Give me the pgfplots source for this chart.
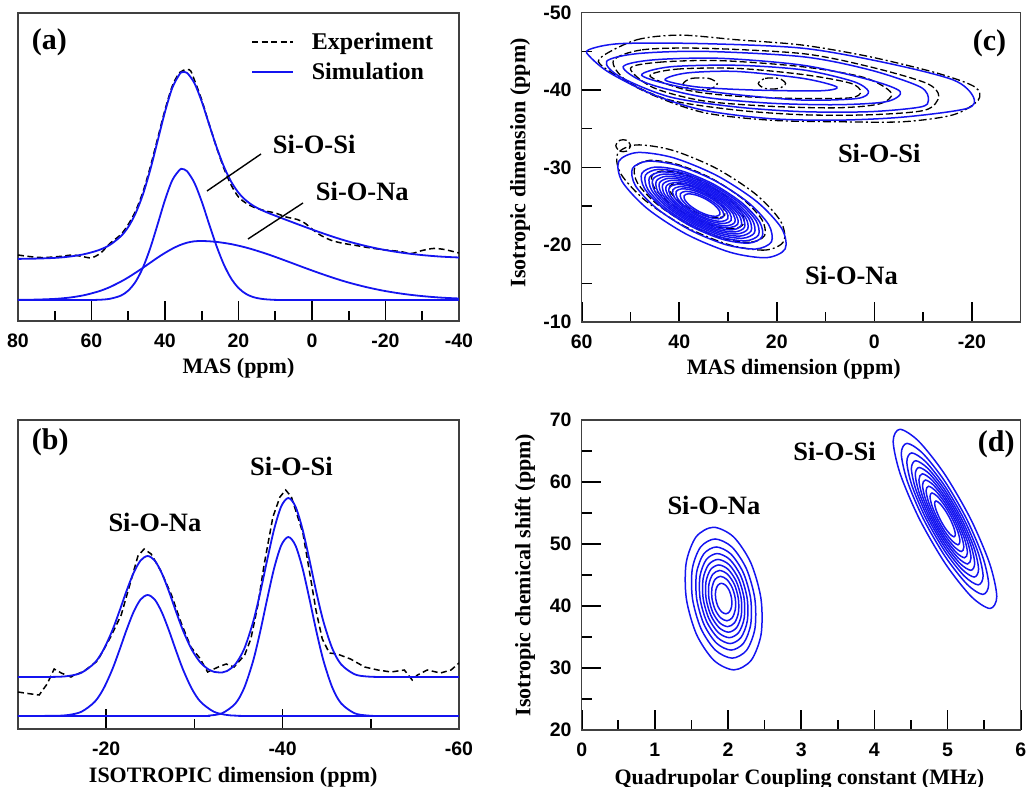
\documentclass[border=0pt]{standalone}
\usepackage{pgfplots}
\pgfplotsset{compat=1.18}
\usepackage{fontspec}
\setmainfont{Liberation Serif}
\newfontfamily\ticksf{Liberation Sans}
\definecolor{simblue}{RGB}{20,20,240}
\newcommand\tickfont{\ticksf\bfseries\fontsize{19.5}{20}\selectfont}
\newcommand\labfont{\bfseries\fontsize{22}{24}\selectfont}
\newcommand\annfont{\bfseries\fontsize{26.5}{28}\selectfont}
\newcommand\legfont{\bfseries\fontsize{24}{26}\selectfont}
\newcommand\panfont{\bfseries\fontsize{30}{32}\selectfont}
\tikzset{exptline/.style={black, line width=1.5pt, dash pattern=on 6pt off 3.5pt}}
\pgfplotsset{
  nmr/.style={
    scale only axis, anchor=south west, clip=true,
    axis line style={line width=1.5pt, black!75},
    tick style={line width=1.6pt, black},
    major tick length=19.5pt, minor tick length=10pt,
    tick align=inside, xtick pos=left, ytick pos=left,
    /pgf/number format/assume math mode=true,
    ticklabel style={font=\tickfont},
    xticklabel style={anchor=center, yshift=-19.5pt},
    yticklabel style={anchor=east, inner sep=0pt, xshift=-10pt},
    label style={font=\labfont},
    xlabel style={at={(axis description cs:0.5,-0.152)}, anchor=center},
  },
  sim/.style={color=simblue, line width=1.8pt, smooth},
  expt/.style={exptline},
  cblue/.style={color=simblue, line width=1.5pt, smooth cycle},
  cdash/.style={black, line width=1.3pt, dash pattern=on 7pt off 3pt, smooth cycle},
  cdot/.style={black, line width=1.3pt, dash pattern=on 8pt off 3pt on 2pt off 3pt, smooth cycle},
}
\begin{document}
\begin{tikzpicture}[x=1pt,y=1pt]
\path[use as bounding box] (0,0) rectangle (1028,787);

% ---------------- (a) 1D MAS spectrum ----------------
\begin{axis}[nmr, at={(18pt,466pt)}, width=441pt, height=308pt,
  x dir=reverse, xmin=-40, xmax=80, ymin=0, ymax=308,
  xtick={-40,-20,0,20,40,60,80}, minor xtick={-30,-10,10,30,50,70}, ytick=\empty,
  xlabel={MAS (ppm)}]
\addplot[expt, smooth] coordinates {(80,66) (77,64.5) (74,63.5) (71,63.8) (68,64.8) (65,66) (62.5,64.5) (60,63.2) (57.5,68) (55,77.5) (52,86.5) (50,96.5) (48,110) (46,129) (44,154) (42,182.5) (40,211) (38,235) (36,248.5) (34,251.5) (33,250) (32,241) (30,221) (28,197) (26,174) (24,153) (22,136) (20,124) (18,118) (16,114) (14,111.5) (12,109.5) (10,108) (7,104) (4,101.5) (2,98) (0,92) (-2,86.5) (-5,81) (-8,78) (-12,75.5) (-16,73) (-20,71) (-24,69.5) (-27,67.5) (-30,70.5) (-33,72.5) (-36,71.5) (-40,68)};
\addplot[sim] coordinates {(80,62.1) (75,62.4) (70,63.1) (66,64.4) (62,66.8) (58,70.9) (55,76.1) (52,84.8) (50,94.0) (48,107.6) (46,126.6) (44,151.3) (42,180.1) (40,209.1) (38,233.2) (36,247.0) (35.3,248.8) (34,248.1) (32,237.9) (30,219.4) (28,196.7) (26,174.3) (24,154.7) (22,139.4) (20,128.3) (18,120.7) (16,115.3) (14,111.4) (12,108.2) (10,105.3) (6,99.7) (2,94.2) (-2,88.9) (-6,83.9) (-10,79.4) (-15,74.7) (-20,70.9) (-25,68.0) (-30,65.9) (-35,64.4) (-40,63.5)};
% Si-O-Si component
\addplot[sim] coordinates {(80,21) (62,21) (58,21.2) (55,22.2) (52,25.4) (50,30.4) (48,39.3) (46,53.4) (44,73.0) (42,96.7) (40,121.0) (38,140.9) (36,151.2) (35.3,152) (34,149.8) (32,138.2) (30,119.4) (28,97.0) (26,75.2) (24,56.6) (22,42.5) (20,33.0) (18,27.2) (16,23.9) (14,22.3) (12,21.5) (10,21.2) (6,21) (-40,21)};
% Si-O-Na component
\addplot[sim] coordinates {(80,21.1) (75,21.4) (70,22.1) (66,23.4) (62,25.8) (58,29.7) (55,33.9) (52,39.4) (50,43.6) (48,48.3) (46,53.2) (44,58.3) (42,63.4) (40,68.1) (38,72.3) (36,75.8) (34,78.3) (32,79.7) (30,80.0) (28,79.7) (26,79.1) (24,78.1) (22,76.9) (20,75.3) (18,73.5) (16,71.4) (14,69.1) (12,66.7) (10,64.1) (6,58.7) (2,53.2) (-2,47.9) (-6,42.9) (-10,38.4) (-15,33.7) (-20,29.9) (-25,27.0) (-30,24.9) (-35,23.4) (-40,22.5)};
\end{axis}

% ---------------- (b) isotropic projection ----------------
\begin{axis}[nmr, at={(18pt,58pt)}, width=441pt, height=309pt,
  x dir=reverse, xmin=-60, xmax=-10, ymin=0, ymax=309,
  xtick={-60,-40,-20}, minor xtick={-50,-30}, ytick=\empty,
  xlabel={ISOTROPIC dimension (ppm)},
  xlabel style={at={(axis description cs:0.488,-0.155)}}]
\addplot[expt] coordinates {(-10,37) (-11.1,35.5) (-12.4,34) (-13.3,45) (-14.1,60) (-14.9,56) (-16,52) (-17.5,58) (-19,68) (-20.5,92) (-21.7,114) (-22.8,148) (-23.6,173) (-24.3,180) (-25.1,175) (-26.2,158) (-27.4,134) (-28.5,106) (-29.6,82) (-30.6,71) (-31.5,57) (-32.7,62) (-33.6,65) (-34.5,62) (-35.7,74) (-36.4,90) (-37.2,124) (-37.9,164) (-38.9,212) (-39.7,232) (-40.35,239) (-41,232) (-42.3,196) (-43,160) (-43.8,118) (-44.5,90) (-45.3,76) (-46.2,75) (-47.7,70) (-49.3,62) (-50.8,59) (-52.3,57) (-53.8,59) (-54.7,49) (-55.3,54) (-56.4,59) (-57.9,56) (-59.1,59) (-60,66)};
\addplot[sim] coordinates {(-10,52) (-14,52.1) (-15.7,53.0) (-17.2,56.3) (-18.7,66.2) (-19.7,79.4) (-20.7,98.7) (-21.5,117.8) (-22.3,137.9) (-23.1,155.9) (-23.9,168.5) (-24.7,173) (-25.5,168.5) (-26.3,155.9) (-27.1,137.9) (-27.9,117.8) (-28.7,98.7) (-29.7,79.4) (-30.7,66.3) (-31.65,59.3) (-32.2,57.2) (-33.15,56.5) (-33.7,58.0) (-34.65,64.8) (-35.65,80.2) (-36.65,106.8) (-37.45,135.9) (-38.25,168.9) (-39.05,200.1) (-39.85,222.7) (-40.65,231) (-41.45,222.7) (-42.25,200.1) (-43.05,168.9) (-43.85,135.9) (-44.65,106.8) (-45.65,80.2) (-46.65,64.5) (-48.15,54.8) (-49.65,52.45) (-52,52) (-60,52)};
% Si-O-Na component
\addplot[sim] coordinates {(-10,13) (-14.2,13.2) (-15.7,14.0) (-17.2,17.3) (-18.7,27.2) (-19.7,40.4) (-20.7,59.7) (-21.5,78.8) (-22.3,98.9) (-23.1,116.9) (-23.9,129.5) (-24.7,134) (-25.5,129.5) (-26.3,116.9) (-27.1,98.9) (-27.9,78.8) (-28.7,59.7) (-29.7,40.4) (-30.7,27.2) (-32.2,17.3) (-33.7,14.0) (-35.2,13.2) (-37,13) (-60,13)};
% Si-O-Si component
\addplot[sim] coordinates {(-10,13) (-30,13) (-31.65,13.45) (-33.15,15.8) (-34.65,25.5) (-35.65,41.2) (-36.65,67.8) (-37.45,96.9) (-38.25,129.9) (-39.05,161.1) (-39.85,183.7) (-40.65,192) (-41.45,183.7) (-42.25,161.1) (-43.05,129.9) (-43.85,96.9) (-44.65,67.8) (-45.65,41.2) (-46.65,25.5) (-48.15,15.8) (-49.65,13.45) (-51.5,13) (-60,13)};
\end{axis}

% ---------------- (c) 2D MQMAS contours ----------------
\begin{axis}[nmr, at={(581.7pt,465pt)}, width=439pt, height=309.3pt,
  x dir=reverse, y dir=reverse, xmin=-30, xmax=60, ymin=-50, ymax=-10,
  xtick={-20,0,20,40,60}, minor xtick={-10,10,30,50},
  ytick={-50,-40,-30,-20,-10}, minor ytick={-45,-35,-25,-15},
  xlabel={MAS dimension (ppm)}, ylabel={Isotropic dimension (ppm)},
  xlabel style={at={(axis description cs:0.483,-0.152)}},
  ylabel style={at={(axis description cs:-0.1405,0.515)}, anchor=center}]
% experimental contours, Si-O-Si
\addplot[cdot] coordinates {(55.9,-44.3) (48.7,-46.5) (39.8,-47.1) (28.2,-46.5) (14.6,-45.8) (0.9,-44.3) (-12.8,-42.2) (-20.6,-40.4) (-21.3,-38.7) (-16.2,-36.8) (-5.9,-35.9) (7.7,-35.9) (21.4,-36.1) (35.1,-37.1) (46.7,-39.7) (55.6,-43.0)};
\addplot[cdash] coordinates {(53.5,-43.8) (47.6,-45.2) (35.1,-45.4) (14.6,-44.7) (0.9,-43.0) (-10.6,-40.9) (-13.2,-39.2) (-10.4,-37.4) (0.9,-36.8) (14.6,-36.8) (28.2,-37.4) (41.9,-38.7) (50.8,-41.2)};
\addplot[cdash] coordinates {(50.0,-42.8) (44.0,-43.6) (31.6,-43.8) (14.6,-43.0) (2.0,-41.6) (-3.5,-39.6) (-1.0,-38.2) (7.7,-37.7) (21.4,-37.9) (35.1,-38.6) (45.3,-40.3)};
\addplot[cdash] coordinates {(46.0,-41.8) (40.5,-42.7) (28.2,-42.8) (14.6,-42.0) (5.0,-40.9) (2.8,-39.8) (4.8,-39.0) (14.6,-38.9) (28.2,-39.2) (38.5,-40.0)};
\addplot[cdot] coordinates {(39.2,-40.8) (37.5,-41.5) (33.9,-41.5) (32.2,-40.8) (33.9,-40.1) (37.5,-40.1)};
\addplot[cdot] coordinates {(23.8,-40.85) (22.4,-41.5) (19.6,-41.5) (18.2,-40.85) (19.6,-40.2) (22.4,-40.2)};
% simulated contours, Si-O-Si
\addplot[cblue] coordinates {(58.6,-45.2) (52.1,-46.0) (35.1,-46.0) (14.6,-45.4) (-2.5,-43.5) (-16.2,-41.3) (-20.3,-39.1) (-18.9,-37.6) (-5.9,-36.5) (7.7,-36.1) (21.4,-36.3) (35.1,-37.4) (45.3,-39.4) (54.2,-42.2) (58.3,-44.3)};
\addplot[cblue] coordinates {(54.9,-43.7) (48.7,-44.7) (35.1,-45.0) (14.6,-44.3) (0.9,-42.6) (-9.4,-40.4) (-11.1,-38.7) (-9.4,-37.8) (0.9,-37.2) (14.6,-37.2) (28.2,-37.8) (41.9,-39.1) (52.1,-41.7)};
\addplot[cblue] coordinates {(51.5,-43.0) (45.3,-43.9) (31.6,-44.1) (14.6,-43.2) (0.9,-41.3) (-5.3,-39.8) (-2.5,-38.5) (7.7,-38.1) (21.4,-38.3) (35.1,-39.1) (46.7,-40.9)};
\addplot[cblue] coordinates {(47.7,-41.9) (41.9,-43.0) (28.2,-43.2) (14.6,-42.6) (4.3,-41.1) (1.2,-39.8) (3.6,-38.9) (14.6,-38.7) (28.2,-39.4) (39.8,-40.4)};
\addplot[cblue] coordinates {(42.9,-41.3) (38.5,-42.2) (28.2,-42.4) (14.6,-41.5) (7.7,-40.4) (11.1,-39.9) (24.8,-40.0) (36.4,-40.4)};
% experimental contours, Si-O-Na
\addplot[cdot] coordinates {(18.55,-20.43) (22.41,-19.30) (29.80,-19.99) (38.75,-22.32) (46.85,-25.66) (51.94,-29.12) (52.65,-31.77) (48.79,-32.90) (41.40,-32.21) (32.45,-29.88) (24.35,-26.54) (19.26,-23.08)};
\addplot[cdash] coordinates {(53.0,-32.8) (52.2,-33.5) (50.8,-33.5) (50.0,-32.8) (50.8,-32.1) (52.2,-32.1)};
\addplot[cdash] coordinates {(22.50,-21.18) (25.51,-20.30) (31.28,-20.83) (38.26,-22.65) (44.58,-25.26) (48.55,-27.96) (49.10,-30.02) (46.09,-30.90) (40.32,-30.37) (33.34,-28.55) (27.02,-25.94) (23.05,-23.24)};
\addplot[cdash] coordinates {(26.82,-22.68) (28.95,-22.06) (33.01,-22.44) (37.93,-23.72) (42.39,-25.56) (45.19,-27.46) (45.58,-28.92) (43.45,-29.54) (39.39,-29.16) (34.47,-27.88) (30.01,-26.04) (27.21,-24.14)};
\addplot[cdash] coordinates {(30.67,-23.83) (31.95,-23.46) (34.39,-23.68) (37.34,-24.45) (40.01,-25.55) (41.69,-26.70) (41.93,-27.57) (40.65,-27.94) (38.21,-27.72) (35.26,-26.95) (32.59,-25.85) (30.91,-24.70)};
% simulated contours, Si-O-Na
\addplot[cblue] coordinates {(18.29,-19.45) (22.15,-18.32) (29.54,-19.01) (38.49,-21.34) (46.59,-24.68) (51.68,-28.14) (52.39,-30.79) (48.53,-31.92) (41.14,-31.23) (32.19,-28.90) (24.09,-25.56) (19.00,-22.10)};
\addplot[cblue] coordinates {(21.09,-20.38) (24.31,-19.44) (30.49,-20.01) (37.97,-21.96) (44.75,-24.75) (49.00,-27.64) (49.59,-29.86) (46.37,-30.80) (40.19,-30.23) (32.71,-28.28) (25.93,-25.49) (21.68,-22.60)};
\addplot[cblue] coordinates {(23.01,-21.02) (25.80,-20.20) (31.15,-20.70) (37.62,-22.39) (43.47,-24.80) (47.15,-27.30) (47.67,-29.22) (44.88,-30.04) (39.53,-29.54) (33.06,-27.85) (27.21,-25.44) (23.53,-22.94)};
\addplot[cblue] coordinates {(23.75,-21.26) (26.37,-20.50) (31.40,-20.97) (37.48,-22.55) (42.99,-24.82) (46.45,-27.17) (46.93,-28.98) (44.31,-29.74) (39.28,-29.27) (33.20,-27.69) (27.69,-25.42) (24.23,-23.07)};
\addplot[cblue] coordinates {(24.58,-21.54) (27.02,-20.83) (31.68,-21.26) (37.33,-22.73) (42.44,-24.84) (45.65,-27.03) (46.10,-28.70) (43.66,-29.41) (39.00,-28.98) (33.35,-27.51) (28.24,-25.40) (25.03,-23.21)};
\addplot[cblue] coordinates {(25.28,-21.77) (27.56,-21.11) (31.92,-21.52) (37.20,-22.89) (41.98,-24.86) (44.98,-26.90) (45.40,-28.47) (43.12,-29.13) (38.76,-28.72) (33.48,-27.35) (28.70,-25.38) (25.70,-23.34)};
\addplot[cblue] coordinates {(25.98,-22.01) (28.10,-21.39) (32.16,-21.77) (37.07,-23.04) (41.52,-24.88) (44.31,-26.78) (44.70,-28.23) (42.58,-28.85) (38.52,-28.47) (33.61,-27.20) (29.16,-25.36) (26.37,-23.46)};
\addplot[cblue] coordinates {(26.64,-22.23) (28.61,-21.65) (32.38,-22.00) (36.95,-23.19) (41.08,-24.90) (43.67,-26.66) (44.04,-28.01) (42.07,-28.59) (38.30,-28.24) (33.73,-27.05) (29.60,-25.34) (27.01,-23.58)};
\addplot[cblue] coordinates {(27.31,-22.45) (29.13,-21.92) (32.61,-22.24) (36.82,-23.34) (40.64,-24.91) (43.04,-26.54) (43.37,-27.79) (41.55,-28.32) (38.07,-28.00) (33.86,-26.90) (30.04,-25.33) (27.64,-23.70)};
\addplot[cblue] coordinates {(28.01,-22.68) (29.67,-22.20) (32.85,-22.49) (36.69,-23.49) (40.18,-24.93) (42.37,-26.42) (42.67,-27.56) (41.01,-28.04) (37.83,-27.75) (33.99,-26.75) (30.50,-25.31) (28.31,-23.82)};
\addplot[cblue] coordinates {(28.62,-22.89) (30.14,-22.44) (33.05,-22.71) (36.58,-23.63) (39.77,-24.95) (41.78,-26.31) (42.06,-27.35) (40.54,-27.80) (37.63,-27.53) (34.10,-26.61) (30.91,-25.29) (28.90,-23.93)};
\addplot[cblue] coordinates {(29.37,-23.14) (30.72,-22.74) (33.31,-22.98) (36.44,-23.80) (39.28,-24.97) (41.06,-26.18) (41.31,-27.10) (39.96,-27.50) (37.37,-27.26) (34.24,-26.44) (31.40,-25.27) (29.62,-24.06)};
\addplot[cblue] coordinates {(30.04,-23.36) (31.24,-23.01) (33.54,-23.22) (36.32,-23.94) (38.84,-24.98) (40.42,-26.06) (40.64,-26.88) (39.44,-27.23) (37.14,-27.02) (34.36,-26.30) (31.84,-25.26) (30.26,-24.18)};
\addplot[cblue] coordinates {(30.91,-23.65) (31.91,-23.35) (33.83,-23.53) (36.16,-24.14) (38.27,-25.01) (39.59,-25.91) (39.77,-26.59) (38.77,-26.89) (36.85,-26.71) (34.52,-26.10) (32.41,-25.23) (31.09,-24.33)};
\addplot[cblue] coordinates {(31.69,-23.91) (32.52,-23.66) (34.10,-23.81) (36.01,-24.31) (37.75,-25.03) (38.84,-25.77) (38.99,-26.33) (38.16,-26.58) (36.58,-26.43) (34.67,-25.93) (32.93,-25.21) (31.84,-24.47)};
\end{axis}

% ---------------- (d) parameter distributions ----------------
\begin{axis}[nmr, at={(581.7pt,57pt)}, width=439pt, height=310pt,
  xmin=0, xmax=6, ymin=20, ymax=70,
  xtick={0,1,2,3,4,5,6}, minor x tick num=1,
  ytick={20,30,40,50,60,70}, minor y tick num=1,
  xlabel={Quadrupolar Coupling constant (MHz)}, ylabel={Isotropic chemical shift (ppm)},
  xlabel style={at={(axis description cs:0.496,-0.158)}},
  ylabel style={at={(axis description cs:-0.129,0.5)}, anchor=center}]
% Si-O-Na distribution
\addplot[cblue] coordinates {(1.800,52.70) (2.074,51.16) (2.312,46.95) (2.450,41.2) (2.452,35.45) (2.316,31.24) (2.080,29.70) (1.806,31.24) (1.568,35.45) (1.430,41.2) (1.428,46.95) (1.564,51.16)};
\addplot[cblue] coordinates {(1.823,50.81) (2.052,49.53) (2.251,46.01) (2.366,41.2) (2.368,36.39) (2.254,32.87) (2.057,31.59) (1.828,32.87) (1.629,36.39) (1.514,41.2) (1.512,46.01) (1.626,49.53)};
\addplot[cblue] coordinates {(1.839,49.52) (2.037,48.40) (2.209,45.36) (2.309,41.2) (2.310,37.04) (2.212,34.00) (2.041,32.89) (1.843,34.00) (1.671,37.04) (1.571,41.2) (1.570,45.36) (1.668,48.40)};
\addplot[cblue] coordinates {(1.852,48.46) (2.025,47.49) (2.175,44.83) (2.262,41.2) (2.263,37.57) (2.177,34.92) (2.028,33.94) (1.855,34.92) (1.705,37.57) (1.618,41.2) (1.617,44.83) (1.703,47.49)};
\addplot[cblue] coordinates {(1.863,47.51) (2.014,46.67) (2.144,44.36) (2.220,41.2) (2.221,38.04) (2.146,35.73) (2.017,34.89) (1.866,35.73) (1.736,38.04) (1.660,41.2) (1.659,44.36) (1.734,46.67)};
\addplot[cblue] coordinates {(1.874,46.62) (2.003,45.89) (2.115,43.91) (2.180,41.2) (2.181,38.49) (2.117,36.51) (2.006,35.78) (1.877,36.51) (1.765,38.49) (1.700,41.2) (1.699,43.91) (1.763,45.89)};
\addplot[cblue] coordinates {(1.885,45.73) (1.993,45.12) (2.087,43.47) (2.141,41.2) (2.142,38.93) (2.088,37.28) (1.995,36.67) (1.887,37.28) (1.793,38.93) (1.739,41.2) (1.738,43.47) (1.792,45.12)};
\addplot[cblue] coordinates {(1.896,44.78) (1.982,44.30) (2.056,42.99) (2.099,41.2) (2.099,39.41) (2.057,38.10) (1.984,37.62) (1.898,38.10) (1.824,39.41) (1.781,41.2) (1.781,42.99) (1.823,44.30)};
\addplot[cblue] coordinates {(1.910,43.66) (1.969,43.33) (2.020,42.43) (2.049,41.2) (2.050,39.97) (2.020,39.07) (1.970,38.74) (1.911,39.07) (1.860,39.97) (1.831,41.2) (1.830,42.43) (1.860,43.33)};
% Si-O-Si distribution
\addplot[cblue] coordinates {(4.350,68.50) (4.607,66.56) (4.960,61.28) (5.315,54.05) (5.576,46.83) (5.673,41.54) (5.580,39.60) (5.323,41.54) (4.970,46.83) (4.615,54.05) (4.354,61.28) (4.257,66.56)};
\addplot[cblue] coordinates {(4.447,66.23) (4.663,64.60) (4.961,60.14) (5.260,54.05) (5.480,47.96) (5.562,43.50) (5.483,41.87) (5.267,43.50) (4.969,47.96) (4.670,54.05) (4.450,60.14) (4.368,64.60)};
\addplot[cblue] coordinates {(4.512,64.69) (4.702,63.26) (4.961,59.37) (5.223,54.05) (5.415,48.73) (5.486,44.84) (5.418,43.41) (5.228,44.84) (4.969,48.73) (4.707,54.05) (4.515,59.37) (4.444,63.26)};
\addplot[cblue] coordinates {(4.566,63.43) (4.733,62.17) (4.962,58.74) (5.192,54.05) (5.362,49.36) (5.424,45.93) (5.364,44.67) (5.197,45.93) (4.968,49.36) (4.738,54.05) (4.568,58.74) (4.506,62.17)};
\addplot[cblue] coordinates {(4.612,62.34) (4.760,61.23) (4.962,58.20) (5.166,54.05) (5.316,49.90) (5.371,46.87) (5.318,45.76) (5.170,46.87) (4.968,49.90) (4.764,54.05) (4.614,58.20) (4.559,61.23)};
\addplot[cblue] coordinates {(4.656,61.32) (4.785,60.34) (4.962,57.68) (5.141,54.05) (5.272,50.42) (5.321,47.76) (5.274,46.78) (5.145,47.76) (4.968,50.42) (4.789,54.05) (4.658,57.68) (4.609,60.34)};
\addplot[cblue] coordinates {(4.698,60.32) (4.810,59.48) (4.963,57.19) (5.117,54.05) (5.230,50.91) (5.272,48.62) (5.232,47.78) (5.120,48.62) (4.967,50.91) (4.813,54.05) (4.700,57.19) (4.658,59.48)};
\addplot[cblue] coordinates {(4.741,59.31) (4.835,58.60) (4.963,56.68) (5.092,54.05) (5.187,51.42) (5.223,49.50) (5.189,48.79) (5.095,49.50) (4.967,51.42) (4.838,54.05) (4.743,56.68) (4.707,58.60)};
\addplot[cblue] coordinates {(4.787,58.23) (4.862,57.67) (4.964,56.14) (5.066,54.05) (5.142,51.96) (5.170,50.44) (5.143,49.87) (5.068,50.44) (4.966,51.96) (4.864,54.05) (4.788,56.14) (4.760,57.67)};
\addplot[cblue] coordinates {(4.842,56.94) (4.893,56.55) (4.964,55.50) (5.035,54.05) (5.087,52.61) (5.107,51.55) (5.088,51.16) (5.037,51.55) (4.965,52.61) (4.895,54.05) (4.843,55.50) (4.823,56.55)};
\end{axis}

% ---------------- panel letters, legend and annotations ----------------
\begin{scope}[every node/.style={inner sep=0pt, anchor=base west}]
\node[font=\panfont] at (31.7,737.7) {(a)};
\node[font=\panfont] at (31.7,337) {(b)};
\node[font=\panfont] at (972.7,736.7) {(c)};
\node[font=\panfont] at (977.7,335) {(d)};
% legend of panel (a)
\draw[exptline] (252,745) -- (293,745);
\draw[color=simblue, line width=1.8pt] (252,715) -- (293,715);
\node[font=\legfont] at (311.7,737.7) {Experiment};
\node[font=\legfont] at (311.7,707) {Simulation};
% site labels
\node[font=\annfont] at (272.7,633.7) {Si-O-Si};
\node[font=\annfont] at (315.7,586) {Si-O-Na};
\draw[black, line width=1.4pt] (207,596) -- (261,633);
\draw[black, line width=1.4pt] (248,548) -- (303,584);
\node[font=\annfont] at (250,311) {Si-O-Si};
\node[font=\annfont] at (108.3,255.3) {Si-O-Na};
\node[font=\annfont] at (837.8,624.2) {Si-O-Si};
\node[font=\annfont] at (804.9,502.4) {Si-O-Na};
\node[font=\annfont] at (793.1,326.6) {Si-O-Si};
\node[font=\annfont] at (667.3,272.9) {Si-O-Na};
\end{scope}
\end{tikzpicture}
\end{document}
